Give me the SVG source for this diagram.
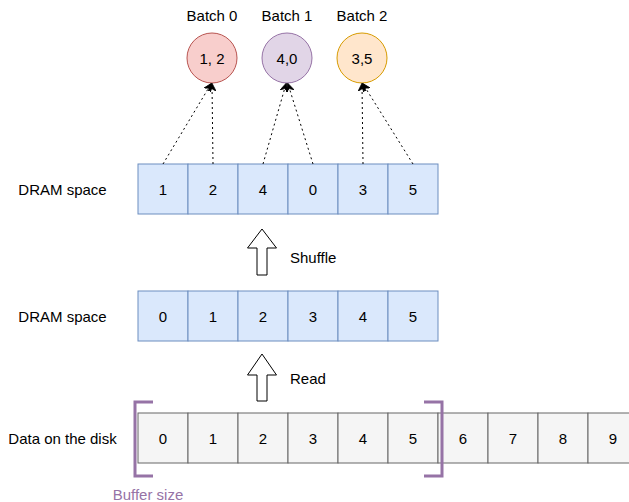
<svg xmlns="http://www.w3.org/2000/svg" width="629" height="502" viewBox="0 0 629 502">
<defs>
<style>
text{font-family:"Liberation Sans",Arial,sans-serif;font-size:15px;fill:#000}
.c{text-anchor:middle;dominant-baseline:central}
.blue{fill:#dae8fc;stroke:#6c8ebf;stroke-width:1}
.gray{fill:#f5f5f5;stroke:#666666;stroke-width:1}
.dot{fill:none;stroke:#000;stroke-width:1;stroke-dasharray:2 3;marker-end:url(#ah)}
.blk{fill:#fff;stroke:#000;stroke-width:1}
.br{fill:none;stroke:#9673a6;stroke-width:3}
</style>
<marker id="ah" viewBox="0 0 10 10" refX="9" refY="5" markerWidth="8" markerHeight="8" markerUnits="userSpaceOnUse" orient="auto">
<path d="M0,0 L10,5 L0,10 L3,5 Z" fill="#000" stroke="#000"/>
</marker>
</defs>
<rect width="629" height="502" fill="#fff"/>

<g id="labels">
<text x="62.5" y="189" class="c">DRAM space</text>
<text x="62.5" y="316" class="c">DRAM space</text>
<text x="62.5" y="438" class="c">Data on the disk</text>
<text x="148" y="494" class="c" style="fill:#9673a6">Buffer size</text>
<text x="290" y="257" dominant-baseline="central">Shuffle</text>
<text x="290" y="378" dominant-baseline="central">Read</text>
</g>

<g id="batch0">
<text x="212" y="15" class="c">Batch 0</text>
<circle cx="212" cy="58" r="25" fill="#f8cecc" stroke="#b85450"/>
<text x="212" y="58" class="c">1, 2</text>
</g>
<g id="batch1">
<text x="287" y="15" class="c">Batch 1</text>
<circle cx="287" cy="58" r="25" fill="#e1d5e7" stroke="#9673a6"/>
<text x="287" y="58" class="c">4,0</text>
</g>
<g id="batch2">
<text x="362" y="15" class="c">Batch 2</text>
<circle cx="362" cy="58" r="25" fill="#ffe6cc" stroke="#d79b00"/>
<text x="362" y="58" class="c">3,5</text>
</g>

<g id="shuffled-row">
<rect x="138" y="164" width="50" height="50" class="blue"/><text x="163" y="189" class="c">1</text>
<rect x="188" y="164" width="50" height="50" class="blue"/><text x="213" y="189" class="c">2</text>
<rect x="238" y="164" width="50" height="50" class="blue"/><text x="263" y="189" class="c">4</text>
<rect x="288" y="164" width="50" height="50" class="blue"/><text x="313" y="189" class="c">0</text>
<rect x="338" y="164" width="50" height="50" class="blue"/><text x="363" y="189" class="c">3</text>
<rect x="388" y="164" width="50" height="50" class="blue"/><text x="413" y="189" class="c">5</text>
</g>

<g id="dram-row">
<rect x="138" y="291" width="50" height="50" class="blue"/><text x="163" y="316" class="c">0</text>
<rect x="188" y="291" width="50" height="50" class="blue"/><text x="213" y="316" class="c">1</text>
<rect x="238" y="291" width="50" height="50" class="blue"/><text x="263" y="316" class="c">2</text>
<rect x="288" y="291" width="50" height="50" class="blue"/><text x="313" y="316" class="c">3</text>
<rect x="338" y="291" width="50" height="50" class="blue"/><text x="363" y="316" class="c">4</text>
<rect x="388" y="291" width="50" height="50" class="blue"/><text x="413" y="316" class="c">5</text>
</g>

<g id="disk-row">
<rect x="138" y="413" width="50" height="50" class="gray"/><text x="163" y="438" class="c">0</text>
<rect x="188" y="413" width="50" height="50" class="gray"/><text x="213" y="438" class="c">1</text>
<rect x="238" y="413" width="50" height="50" class="gray"/><text x="263" y="438" class="c">2</text>
<rect x="288" y="413" width="50" height="50" class="gray"/><text x="313" y="438" class="c">3</text>
<rect x="338" y="413" width="50" height="50" class="gray"/><text x="363" y="438" class="c">4</text>
<rect x="388" y="413" width="50" height="50" class="gray"/><text x="413" y="438" class="c">5</text>
<rect x="438" y="413" width="50" height="50" class="gray"/><text x="463" y="438" class="c">6</text>
<rect x="488" y="413" width="50" height="50" class="gray"/><text x="513" y="438" class="c">7</text>
<rect x="538" y="413" width="50" height="50" class="gray"/><text x="563" y="438" class="c">8</text>
<rect x="588" y="413" width="50" height="50" class="gray"/><text x="613" y="438" class="c">9</text>
</g>

<g id="buffer-bracket">
<path d="M153,402 H135 V476 H153" class="br"/>
<path d="M424,402 H442 V476 H424" class="br"/>
</g>

<g id="shuffle-arrow">
<path d="M257,275 V248 H247.5 L262,229 L276.5,248 H267 V275 Z" class="blk"/>
</g>
<g id="read-arrow">
<path d="M257,401 V375 H247.5 L262,354 L276.5,375 H267 V401 Z" class="blk"/>
</g>

<g id="connectors">
<path d="M163,164 L211,84" class="dot"/>
<path d="M213,164 L212,84" class="dot"/>
<path d="M263,164 L286,84" class="dot"/>
<path d="M313,164 L288,84" class="dot"/>
<path d="M363,164 L362,84" class="dot"/>
<path d="M413,164 L363,84" class="dot"/>
</g>
</svg>
